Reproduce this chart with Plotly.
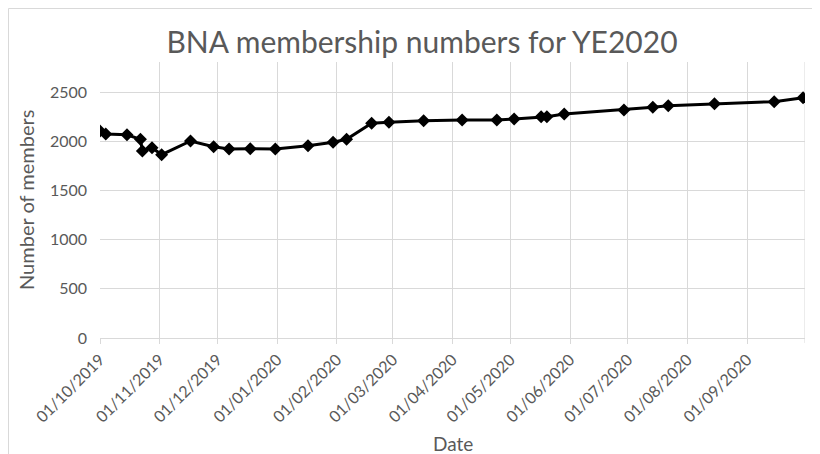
import plotly.graph_objects as go

# ---- data ----
dates = ["2019-10-01", "2019-10-04", "2019-10-15", "2019-10-22", "2019-10-23",
         "2019-10-28", "2019-11-02", "2019-11-17", "2019-11-29", "2019-12-07",
         "2019-12-18", "2019-12-31", "2020-01-17", "2020-01-30", "2020-02-06",
         "2020-02-19", "2020-02-28", "2020-03-17", "2020-04-06", "2020-04-24",
         "2020-05-03", "2020-05-17", "2020-05-20", "2020-05-29", "2020-06-29",
         "2020-07-14", "2020-07-22", "2020-08-15", "2020-09-15", "2020-09-30"]
members = [2105, 2073, 2065, 2019, 1900, 1934, 1863, 2002, 1944, 1921,
           1924, 1921, 1955, 1989, 2019, 2182, 2192, 2208, 2215, 2215,
           2226, 2249, 2249, 2276, 2317, 2344, 2361, 2381, 2402, 2442]

tick_dates = ["2019-10-01", "2019-11-01", "2019-12-01", "2020-01-01", "2020-02-01",
              "2020-03-01", "2020-04-01", "2020-05-01", "2020-06-01", "2020-07-01",
              "2020-08-01", "2020-09-01"]
tick_labels = ["01/10/2019", "01/11/2019", "01/12/2019", "01/01/2020", "01/02/2020",
               "01/03/2020", "01/04/2020", "01/05/2020", "01/06/2020", "01/07/2020",
               "01/08/2020", "01/09/2020"]
x_end = "2020-10-01"
y_ticks = [0, 500, 1000, 1500, 2000, 2500]

title_text = "BNA membership numbers for YE2020"
x_title = "Date"
y_title = "Number of members"

GRID = "#d9d9d9"
TXT = "#595959"
FONT = "Lato"

# page has an 8px body margin, so the figure is 8px smaller and shifted
W, H = 812, 446
L, R, T, B = 92, 15, 54, 116
PW, PH = W - L - R, H - T - B

fig = go.Figure()
fig.add_trace(go.Scatter(
    x=dates, y=members, mode="lines+markers",
    line=dict(color="black", width=3),
    marker=dict(symbol="diamond", size=10, color="black"),
    showlegend=False,
))

fig.update_layout(
    width=W, height=H,
    margin=dict(l=L, r=R, t=T, b=B, autoexpand=False),
    paper_bgcolor="white", plot_bgcolor="white",
    font=dict(family=FONT, color=TXT),
    title=dict(text=title_text, x=414 / W, xref="container", xanchor="center",
               y=(H - 34) / H, yref="container", yanchor="middle",
               font=dict(size=30, color=TXT, family=FONT)),
    xaxis=dict(
        type="date", range=[dates[0], x_end], automargin=False,
        tickmode="array", tickvals=tick_dates, ticktext=tick_labels,
        tickangle=-45, tickfont=dict(size=16, color=TXT),
        showgrid=True, gridcolor=GRID, gridwidth=1,
        showline=True, linecolor=GRID, linewidth=1,
        ticks="outside", ticklen=5, tickcolor=GRID,
        zeroline=False,
    ),
    yaxis=dict(
        range=[0, 2805], tickmode="array", tickvals=y_ticks, automargin=False,
        tickfont=dict(size=16, color=TXT),
        showgrid=True, gridcolor=GRID, gridwidth=1,
        showline=False, zeroline=False, ticks="",
        ticklabelstandoff=12,
    ),
    annotations=[
        dict(text=x_title, xref="paper", yref="paper", x=0.5, y=(H - B - 435) / PH,
             xanchor="center", yanchor="middle", showarrow=False,
             font=dict(size=19, color=TXT)),
        dict(text=y_title, xref="paper", yref="paper", x=(18 - L) / PW, y=0.5,
             xanchor="center", yanchor="middle", showarrow=False, textangle=-90,
             font=dict(size=20, color=TXT)),
    ],
)

# right-edge gridline (axis end, unlabeled)
fig.add_shape(type="line", xref="x", yref="paper", x0=x_end, x1=x_end,
              y0=-0.018, y1=1, line=dict(color=GRID, width=1), layer="below")

# chart area border (left and top visible in reference)
bx = (0.5 - L) / PW
by = (H - B - 0.5) / PH
fig.add_shape(type="line", xref="paper", yref="paper",
              x0=bx, x1=bx, y0=(H - B - H - 5) / PH, y1=by,
              line=dict(color=GRID, width=1))
fig.add_shape(type="line", xref="paper", yref="paper",
              x0=bx, x1=(W + 5 - L) / PW, y0=by, y1=by,
              line=dict(color=GRID, width=1))

fig.write_html("out.html")
